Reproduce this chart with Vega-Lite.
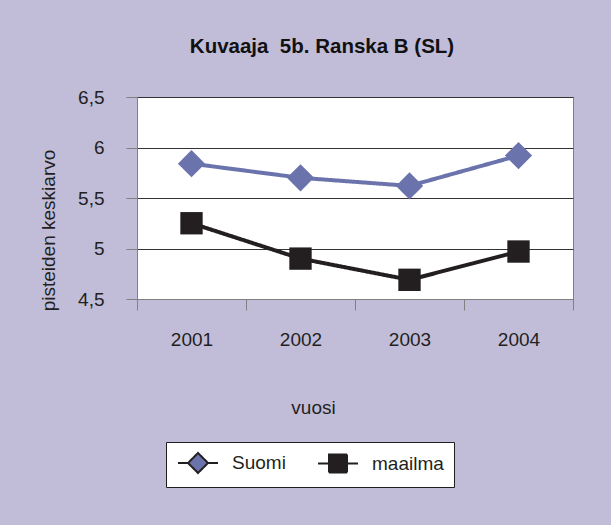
{
  "$schema": "https://vega.github.io/schema/vega-lite/v6.json",
  "width": 436,
  "height": 202,
  "autosize": {"type": "none"},
  "padding": {"left": 137, "top": 97, "right": 38, "bottom": 226},
  "background": "#C1BDD9",
  "title": {
    "text": "Kuvaaja\u00a0 5b. Ranska B (SL)",
    "font": "Liberation Sans",
    "fontSize": 20.5,
    "fontWeight": "bold",
    "color": "#111111",
    "anchor": "middle",
    "frame": "group",
    "dx": -33,
    "offset": 31
  },
  "config": {
    "font": "Liberation Sans",
    "view": {"fill": "white", "stroke": "#808080", "strokeWidth": 1}
  },
  "data": {
    "values": [
      {"vuosi": "2001", "sarja": "Suomi", "arvo": 5.84},
      {"vuosi": "2002", "sarja": "Suomi", "arvo": 5.70},
      {"vuosi": "2003", "sarja": "Suomi", "arvo": 5.62},
      {"vuosi": "2004", "sarja": "Suomi", "arvo": 5.92},
      {"vuosi": "2001", "sarja": "maailma", "arvo": 5.25},
      {"vuosi": "2002", "sarja": "maailma", "arvo": 4.90},
      {"vuosi": "2003", "sarja": "maailma", "arvo": 4.69},
      {"vuosi": "2004", "sarja": "maailma", "arvo": 4.97}
    ]
  },
  "encoding": {
    "x": {
      "field": "vuosi",
      "type": "ordinal",
      "bandPosition": 0.5,
      "scale": {"type": "band", "paddingInner": 0, "paddingOuter": 0},
      "axis": {
        "title": "vuosi",
        "labelAngle": 0,
        "tickBand": "extent",
        "tickSize": 11,
        "tickColor": "#808080",
        "domainColor": "#808080",
        "grid": false,
        "labelFontSize": 19,
        "labelColor": "#231F20",
        "labelPadding": 20,
        "titleFontSize": 19,
        "titleFontWeight": "normal",
        "titleColor": "#231F20",
        "titleX": 176,
        "titleY": 114,
        "titleBaseline": "alphabetic",
        "titleAlign": "center"
      }
    },
    "y": {
      "field": "arvo",
      "type": "quantitative",
      "scale": {"domain": [4.5, 6.5], "zero": false, "nice": false},
      "axis": {
        "title": "pisteiden keskiarvo",
        "values": [4.5, 5, 5.5, 6, 6.5],
        "labelExpr": "replace(format(datum.value, '~g'), '.', ',')",
        "tickSize": 11,
        "tickColor": "#808080",
        "domainColor": "#808080",
        "grid": true,
        "gridColor": "#333333",
        "gridWidth": 1,
        "labelFontSize": 19,
        "labelColor": "#231F20",
        "labelPadding": 22,
        "titleFontSize": 19,
        "titleFontWeight": "normal",
        "titleColor": "#231F20",
        "titleX": -83,
        "titleY": 133,
        "titleBaseline": "alphabetic",
        "titleAlign": "center"
      }
    }
  },
  "layer": [
    {
      "mark": {"type": "line", "strokeWidth": 4},
      "encoding": {
        "color": {"condition": {"test": "datum.sarja === 'Suomi'", "value": "#6B73AD"}, "value": "#231F20"},
        "strokeDash": {
          "field": "sarja",
          "type": "nominal",
          "scale": {"domain": ["Suomi", "maailma"], "range": [[1, 0], [1, 0]]},
          "legend": {
            "title": null,
            "orient": "none",
            "legendX": 29,
            "legendY": 345,
            "direction": "horizontal",
            "fillColor": "white",
            "strokeColor": "#231F20",
            "padding": 10,
            "symbolSize": 400,
            "symbolStrokeWidth": 2,
            "symbolStrokeColor": "#231F20",
            "labelFontSize": 19,
            "labelColor": "#231F20",
            "labelOffset": 34,
            "columnPadding": 28,
            "encode": {
              "symbols": {
                "update": {
                  "shape": {"signal": "datum.value === 'Suomi' ? 'M-0.9,0H0.1M2.1,0H3.1M1.1,-1L2.1,0L1.1,1L0.1,0Z' : 'M-0.9,0H0.2M2,0H3.1M0.2,-0.9H2V0.9H0.2Z'"},
                  "fill": {"signal": "datum.value === 'Suomi' ? '#6B73AD' : '#231F20'"},
                  "stroke": {"value": "#231F20"},
                  "strokeWidth": {"value": 2},
                  "strokeDash": {"value": [1, 0]},
                  "fillOpacity": {"value": 1},
                  "opacity": {"value": 1}
                }
              }
            }
          }
        }
      }
    },
    {
      "mark": {"type": "point", "filled": true, "opacity": 1, "strokeWidth": 0},
      "encoding": {
        "color": {"condition": {"test": "datum.sarja === 'Suomi'", "value": "#6B73AD"}, "value": "#231F20"},
        "shape": {"condition": {"test": "datum.sarja === 'Suomi'", "value": "diamond"}, "value": "square"},
        "size": {"condition": {"test": "datum.sarja === 'Suomi'", "value": 740}, "value": 500}
      }
    }
  ]
}
